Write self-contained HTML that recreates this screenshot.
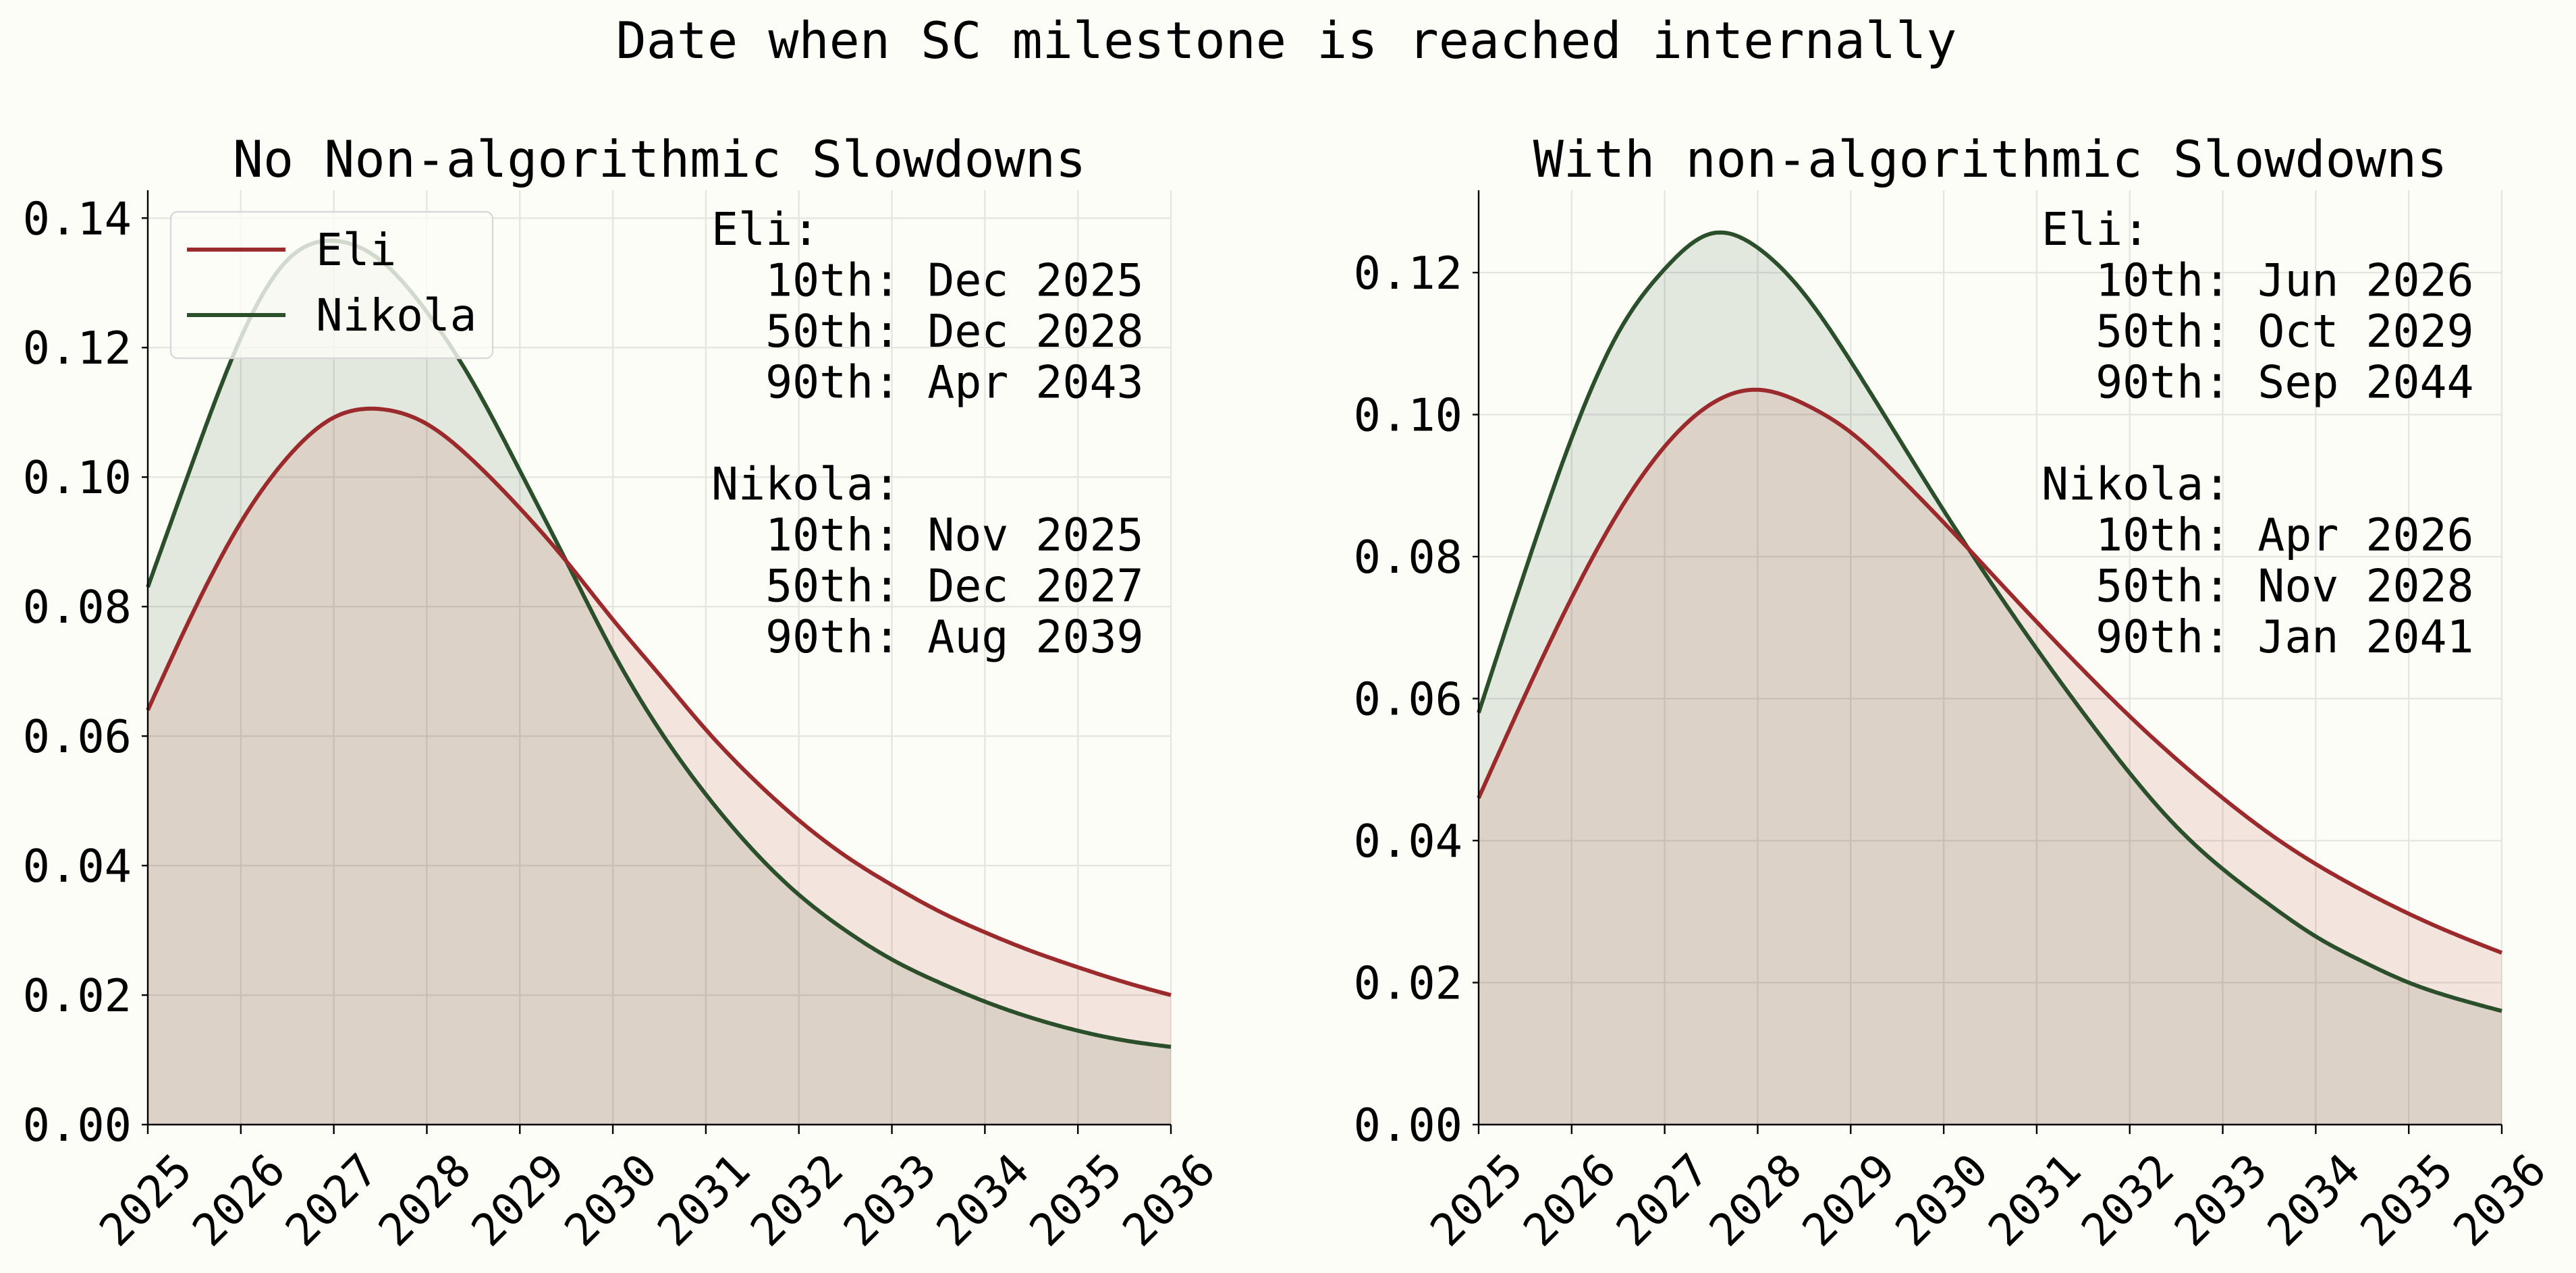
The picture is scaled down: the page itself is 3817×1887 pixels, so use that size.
<!DOCTYPE html>
<html><head><meta charset="utf-8"><style>
html,body{margin:0;padding:0;background:#fdfdf8;}
svg{display:block;font-family:"DejaVu Sans Mono","Liberation Mono",monospace;}
</style></head><body>
<svg id="chart" width="3817" height="1887" viewBox="0 0 3817 1887">
<rect width="3817" height="1887" fill="#fdfdf8"/>
<text x="1906" y="86" font-size="75" text-anchor="middle">Date when SC milestone is reached internally</text>
</svg>
<script>
const years = [2025,2025.5,2026,2026.5,2027,2027.5,2028,2028.5,2029,2029.5,2030,2030.5,2031,2031.5,2032,2032.5,2033,2033.5,2034,2034.5,2035,2035.5,2036];
const xTicks = [2025,2026,2027,2028,2029,2030,2031,2032,2033,2034,2035,2036];
const leftEli = [0.064,0.0795,0.093,0.103,0.1092,0.1105,0.1082,0.1025,0.0952,0.087,0.078,0.0695,0.061,0.0535,0.047,0.0415,0.037,0.033,0.0297,0.0268,0.0243,0.022,0.020];
const leftNikola = [0.083,0.103,0.1215,0.1335,0.1365,0.1335,0.1255,0.1145,0.101,0.087,0.073,0.061,0.051,0.0425,0.0355,0.030,0.0255,0.022,0.019,0.0165,0.0145,0.013,0.012];
const rightEli = [0.046,0.0605,0.0742,0.0862,0.0955,0.1015,0.1035,0.1015,0.0975,0.0915,0.0848,0.0778,0.0708,0.064,0.0575,0.0515,0.046,0.041,0.0367,0.033,0.0297,0.0268,0.0242];
const rightNikola = [0.058,0.078,0.0967,0.1115,0.1205,0.1255,0.1235,0.117,0.1075,0.097,0.0865,0.0765,0.067,0.058,0.0495,0.042,0.036,0.031,0.0265,0.023,0.020,0.0178,0.016];
const leftYTicks = [0,0.02,0.04,0.06,0.08,0.10,0.12,0.14];
const rightYTicks = [0,0.02,0.04,0.06,0.08,0.10,0.12];
const leftTitle = "No Non-algorithmic Slowdowns";
const rightTitle = "With non-algorithmic Slowdowns";
const leftEliNotes = ["10th: Dec 2025","50th: Dec 2028","90th: Apr 2043"];
const leftNikolaNotes = ["10th: Nov 2025","50th: Dec 2027","90th: Aug 2039"];
const rightEliNotes = ["10th: Jun 2026","50th: Oct 2029","90th: Sep 2044"];
const rightNikolaNotes = ["10th: Apr 2026","50th: Nov 2028","90th: Jan 2041"];

const NS="http://www.w3.org/2000/svg";
const svg=document.getElementById('chart');
function mk(tag,attrs,parent){const e=document.createElementNS(NS,tag);for(const k in attrs)e.setAttribute(k,attrs[k]);(parent||svg).appendChild(e);return e;}

// natural cubic spline through data, sampled densely
function splinePts(xs,ys,sx,sy){
  const n=xs.length, h=[], a=[], l=[1], mu=[0], z=[0], c=new Array(n).fill(0), b=[], d=[];
  for(let i=0;i<n-1;i++)h.push(xs[i+1]-xs[i]);
  for(let i=1;i<n-1;i++)a[i]=3/h[i]*(ys[i+1]-ys[i])-3/h[i-1]*(ys[i]-ys[i-1]);
  for(let i=1;i<n-1;i++){l[i]=2*(xs[i+1]-xs[i-1])-h[i-1]*mu[i-1];mu[i]=h[i]/l[i];z[i]=(a[i]-h[i-1]*z[i-1])/l[i];}
  l[n-1]=1;z[n-1]=0;
  for(let j=n-2;j>=0;j--){c[j]=z[j]-mu[j]*c[j+1];b[j]=(ys[j+1]-ys[j])/h[j]-h[j]*(c[j+1]+2*c[j])/3;d[j]=(c[j+1]-c[j])/(3*h[j]);}
  const pts=[];
  for(let j=0;j<n-1;j++){
    const steps=20;
    for(let s=0;s<steps;s++){const t=h[j]*s/steps;pts.push([sx(xs[j]+t),sy(ys[j]+b[j]*t+c[j]*t*t+d[j]*t*t*t)]);}
  }
  pts.push([sx(xs[n-1]),sy(ys[n-1])]);
  return pts;
}
function toD(pts){return 'M'+pts.map(p=>p[0].toFixed(1)+','+p[1].toFixed(1)).join(' L');}

function panel(cfg){
  const {x0,x1,y0,yTop,ymax,yTicks,eli,nik,title,eliNotes,nikNotes,noteX,prefix,legend}=cfg;
  const g=mk('g',{});
  
  
  const sx=v=>x0+(v-2025)/(2036-2025)*(x1-x0);
  const sy=v=>y0-(v/ymax)*(y0-yTop);
  xTicks.forEach(t=>{const l=mk('line',{x1:sx(t),x2:sx(t),y1:yTop,y2:y0,stroke:'#e5e5e1','stroke-width':2.4},g);
    });
  yTicks.forEach(t=>{const l=mk('line',{x1:x0,x2:x1,y1:sy(t),y2:sy(t),stroke:'#e5e5e1','stroke-width':2.4},g);
    });
  const series=[[nik,'#2a4f2a','rgba(42,79,42,0.12)','nikola'],[eli,'#9b2a2c','rgba(185,60,50,0.13)','eli']];
  const paths=series.map(([vals])=>toD(splinePts(years,vals,sx,sy)));
  series.forEach(([vals,col,fill,nm],k)=>{
    const a=mk('path',{d:paths[k]+` L${sx(2036)},${y0} L${sx(2025)},${y0} Z`,fill:fill,stroke:'none'},g);
    
  });
  series.forEach(([vals,col,fill,nm],k)=>{
    const l=mk('path',{d:paths[k],fill:'none',stroke:col,'stroke-width':6,'stroke-linejoin':'round'},g);
    
  });
  const sl=mk('line',{x1:x0,x2:x0,y1:yTop,y2:y0,stroke:'#000','stroke-width':2.4},g);
  
  const sb=mk('line',{x1:x0,x2:x1,y1:y0,y2:y0,stroke:'#000','stroke-width':2.4},g);
  
  yTicks.forEach(t=>{
    const tk=mk('line',{x1:x0-9,x2:x0,y1:sy(t),y2:sy(t),stroke:'#000','stroke-width':2.4},g);
    
    const tx=mk('text',{x:x0-24,y:sy(t)+24,'font-size':67,'text-anchor':'end'},g);
    tx.textContent=t.toFixed(2);
    
  });
  xTicks.forEach(t=>{
    const tk=mk('line',{x1:sx(t),x2:sx(t),y1:y0,y2:y0+14,stroke:'#000','stroke-width':2.4},g);
    
    const px=sx(t)-4,py=y0+111;
    const tx=mk('text',{x:px,y:py+24,'font-size':66,'text-anchor':'middle',transform:`rotate(-45 ${px} ${py})`},g);
    tx.textContent=String(t);
    
  });
  const tt=mk('text',{x:(x0+x1)/2,y:262,'font-size':75,'text-anchor':'middle'},g);
  tt.textContent=title;
  
  const lines=['Eli:',...eliNotes.map(s=>'  '+s),'','Nikola:',...nikNotes.map(s=>'  '+s)];
  const ann=mk('text',{'font-size':66.5},g);
  
  lines.forEach((s,i)=>{const ts=mk('tspan',{x:noteX,y:363+i*75.5},ann);ts.textContent=s.replace(/ /g,'\u00a0');});
  if(legend){
    const lg=mk('g',{},g);
    
    mk('rect',{x:253,y:314,width:477,height:217,rx:10,fill:'rgba(253,253,248,0.8)',stroke:'#d8d8d8','stroke-width':2.4},lg);
    [['Eli','#9b2a2c',370],['Nikola','#2a4f2a',467]].forEach(([n,c,y])=>{
      const e=mk('g',{},lg);
      
      mk('line',{x1:277,x2:423,y1:y,y2:y,stroke:c,'stroke-width':6},e);
      const t=mk('text',{x:468,y:y+23,'font-size':66},e);t.textContent=n;
    });
  }
}
panel({x0:219,x1:1735,y0:1667,yTop:282,ymax:0.1443,yTicks:leftYTicks,eli:leftEli,nik:leftNikola,title:leftTitle,eliNotes:leftEliNotes,nikNotes:leftNikolaNotes,noteX:1054,prefix:'left',legend:true});
panel({x0:2191,x1:3707,y0:1667,yTop:282,ymax:0.1316,yTicks:rightYTicks,eli:rightEli,nik:rightNikola,title:rightTitle,eliNotes:rightEliNotes,nikNotes:rightNikolaNotes,noteX:3025,prefix:'right',legend:false});
</script>
</body></html>
